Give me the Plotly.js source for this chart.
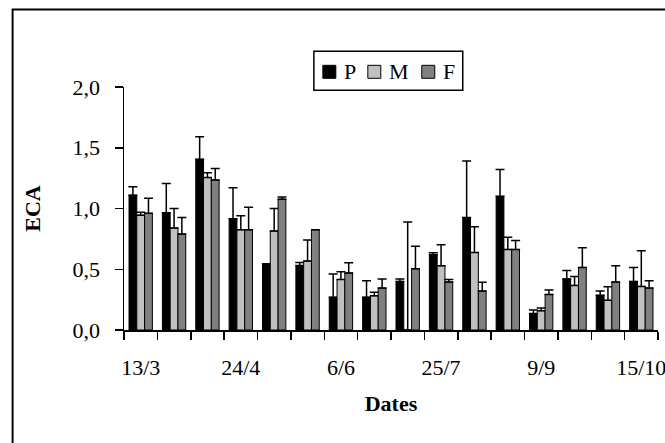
<!DOCTYPE html>
<html>
<head>
<meta charset="utf-8">
<script src="https://cdn.plot.ly/plotly-3.0.1.min.js"></script>
<style>
html,body{margin:0;padding:0;background:#fff;}
#chart{width:665px;height:443px;}
</style>
</head>
<body>
<div id="chart"></div>
<script>
// Sampling dates (only every third one is labelled on the axis)
const dateLabels = ["13/3","","","24/4","","","6/6","","","25/7","","","9/9","","","15/10"];

// Series names and fills
const seriesNames = ["P", "M", "F"];
const seriesColors = ["#000000", "#c0c0c0", "#808080"];

// ECA means
const P = [1.11, 0.965, 1.405, 0.915, 0.545, 0.53, 0.27, 0.27, 0.40, 0.62, 0.925, 1.10, 0.135, 0.42, 0.285, 0.40];
const M = [0.945, 0.84, 1.255, 0.825, 0.815, 0.567, 0.416, 0.282, 0.0, 0.529, 0.638, 0.663, 0.159, 0.367, 0.244, 0.359];
const F = [0.96, 0.79, 1.235, 0.825, 1.077, 0.825, 0.469, 0.345, 0.504, 0.395, 0.32, 0.663, 0.293, 0.515, 0.395, 0.345];

// Upper error amounts
const P_err = [0.07, 0.24, 0.185, 0.255, 0.0, 0.025, 0.19, 0.135, 0.02, 0.015, 0.465, 0.22, 0.03, 0.07, 0.035, 0.115];
const M_err = [0.025, 0.16, 0.04, 0.115, 0.185, 0.173, 0.064, 0.028, 0.888, 0.172, 0.212, 0.101, 0.022, 0.074, 0.112, 0.293];
const F_err = [0.125, 0.135, 0.095, 0.185, 0.018, 0.0, 0.084, 0.074, 0.186, 0.021, 0.072, 0.074, 0.036, 0.162, 0.134, 0.06];

const values = [P, M, F];
const errors = [P_err, M_err, F_err];

const xIdx = dateLabels.map((_, i) => i);
const FONT = '"Liberation Serif", "Times New Roman", Times, serif';

const data = seriesNames.map((name, k) => ({
  type: 'bar', name: name, x: xIdx, y: values[k],
  marker: {color: seriesColors[k], line: {color: '#000', width: 1}},
  error_y: {type: 'data', symmetric: false, array: errors[k], arrayminus: errors[k].map(() => 0),
            color: '#000', thickness: 1.5, width: 4.5}
}));

// plot-area geometry in px (for placing legend/frame in paper coords)
const W = 665, H = 443;
const mL = 124, mR = 6.6, mT = 86.7, mB = 113;
const pw = W - mL - mR, ph = H - mT - mB;
const px = v => (v - mL) / pw;
const py = v => (H - mB - v) / ph;

// Chart-area frame and hand-built legend box (Excel style: small swatch, tight text)
const shapes = [];
const annotations = [];
shapes.push({type: 'rect', xref: 'paper', yref: 'paper', x0: px(12.5), x1: px(W + 6), y0: py(H + 6), y1: py(9),
             line: {color: '#000', width: 2}, fillcolor: 'rgba(0,0,0,0)', layer: 'below'});
shapes.push({type: 'rect', xref: 'paper', yref: 'paper', x0: px(314), x1: px(463), y0: py(90), y1: py(51),
             line: {color: '#000', width: 1.5}, fillcolor: '#fff'});
const swX = [323, 368, 422];
seriesNames.forEach((name, k) => {
  shapes.push({type: 'rect', xref: 'paper', yref: 'paper', x0: px(swX[k]), x1: px(swX[k] + 13),
               y0: py(78), y1: py(65), line: {color: '#000', width: 1}, fillcolor: seriesColors[k]});
  annotations.push({xref: 'paper', yref: 'paper', x: px(swX[k] + 19), y: py(71.5), xanchor: 'left', yanchor: 'middle',
                    text: name, showarrow: false, font: {family: FONT, size: 22, color: '#000'}});
});

const layout = {
  width: W, height: H,
  margin: {l: mL, r: mR, t: mT, b: mB, pad: 0},
  paper_bgcolor: '#fff', plot_bgcolor: '#fff',
  font: {family: FONT, size: 22, color: '#000'},
  separators: ', ',
  barmode: 'group', bargap: 0.3, bargroupgap: 0,
  showlegend: false,
  xaxis: {
    range: [-0.5, 15.5], tickmode: 'array', tickvals: xIdx, ticktext: dateLabels,
    ticks: '', showgrid: false, zeroline: false, showline: true, linecolor: '#000', linewidth: 1.5,
    ticklabelstandoff: 17, ticklabeloverflow: 'allow',
    minor: {tickmode: 'linear', tick0: -0.5, dtick: 1, ticks: 'outside', ticklen: 8,
            tickcolor: '#000', tickwidth: 1.5, showgrid: false},
    tickfont: {family: FONT, size: 22, color: '#000'},
    title: {text: '<b>Dates</b>', font: {family: FONT, size: 22, color: '#000'}, standoff: 16},
    fixedrange: true
  },
  yaxis: {
    range: [0, 2], dtick: 0.5, tick0: 0, tickformat: '.1f',
    ticks: 'outside', ticklen: 8, tickwidth: 1.5, tickcolor: '#000',
    showgrid: false, zeroline: false, showline: true, linecolor: '#000', linewidth: 1.5,
    ticklabelstandoff: 10,
    tickfont: {family: FONT, size: 22, color: '#000'},
    title: {text: '<b>ECA</b>', font: {family: FONT, size: 22, color: '#000'}, standoff: 26},
    fixedrange: true
  },
  shapes: shapes,
  annotations: annotations
};

Plotly.newPlot('chart', data, layout, {displayModeBar: false, staticPlot: true});
</script>
</body>
</html>
